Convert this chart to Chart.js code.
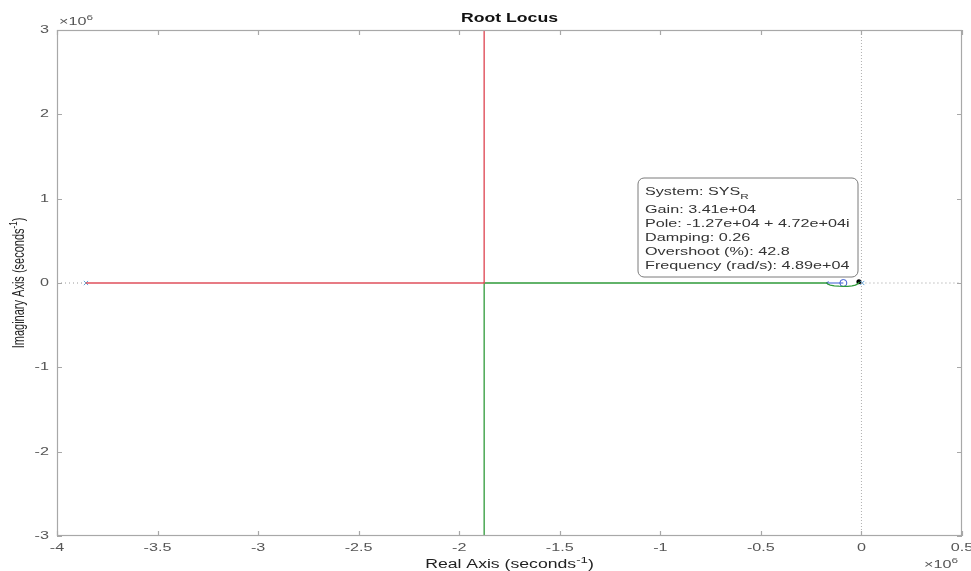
<!DOCTYPE html>
<html>
<head>
<meta charset="utf-8">
<script src="https://cdn.jsdelivr.net/npm/chart.js@4.4.0/dist/chart.umd.min.js"></script>
<style>
html,body{margin:0;padding:0;background:#fff;}
#wrap{width:971px;height:571px;}
</style>
</head>
<body>
<div id="wrap"><canvas id="c" width="971" height="571"></canvas></div>
<script>
// Values in units of 1e6 (seconds^-1)
const redX = [-3.856, -1.876, -1.876];
const redY = [0, 0, 3];
const greenX = [-1.876, -1.876, -0.172, -0.168, -0.155, -0.135, -0.112, -0.09, -0.068, -0.047, -0.03, -0.017, -0.01];
const greenY = [-3, 0, 0, -0.012, -0.024, -0.033, -0.038, -0.04, -0.039, -0.034, -0.024, -0.008, 0.014];
const blueLineX = [-0.175, -0.09];
const blueLineY = [0, 0];
const blueArcX = [-0.163, -0.175, -0.163];
const blueArcY = [0.016, 0, -0.016];
const poleX = [-3.856, 0.004];
const poleY = [0, 0];
const zeroX = [-0.09];
const zeroY = [0];
const tipX = [-0.0127];
const tipY = [0.016];
const xTicks = [-4, -3.5, -3, -2.5, -2, -1.5, -1, -0.5, 0, 0.5];
const yTicks = [-3, -2, -1, 0, 1, 2, 3];
const tipLines = ["Gain: 3.41e+04", "Pole: -1.27e+04 + 4.72e+04i", "Damping: 0.26", "Overshoot (%): 42.8", "Frequency (rad/s): 4.89e+04"];

const pts = (xs, ys) => xs.map((x, i) => ({x: x, y: ys[i]}));
const FONT = '"Liberation Sans", Arial, sans-serif';
const AX = '#a8a8a8';
const TXT = '#555555';
const SX = 1.47; // horizontal stretch of the reference's text

function lineDS(data, color, dash, w) {
  return {data: data, showLine: true, borderColor: color, borderWidth: w || 1, pointRadius: 0,
    borderDash: dash || [], fill: false, tension: 0};
}

const datasets = [
  lineDS(pts([-4, -3.856], [0, 0]), '#9a9a9a', [1, 3]),
  lineDS(pts([0, 0.5], [0, 0]), '#9a9a9a', [1, 3]),
  lineDS(pts([0, 0], [-3, 3]), '#b0b0b0', [1, 2]),
  lineDS(pts(redX, redY), '#e0505c', null, 1.4),
  lineDS(pts(greenX, greenY), '#2f9a3a', null, 1.3),
  lineDS(pts(blueLineX, blueLineY), '#3a5bd0'),
  lineDS(pts(blueArcX, blueArcY), '#3a5bd0'),
  {data: pts(poleX, poleY), showLine: false, pointStyle: 'crossRot', pointRadius: 3,
    borderColor: '#5aa0d8', borderWidth: 1},
  {data: pts(zeroX, zeroY), showLine: false, pointStyle: 'circle', pointRadius: 3.5,
    borderColor: '#3a5bd0', backgroundColor: 'rgba(0,0,0,0)', borderWidth: 1},
  {data: pts(tipX, tipY), showLine: false, pointStyle: 'circle', pointRadius: 2.5,
    borderColor: '#000', backgroundColor: '#000', borderWidth: 0}
];

function stext(ctx, text, x, y, font, align, base) {
  ctx.save();
  ctx.translate(x, y);
  ctx.scale(SX, 1);
  ctx.font = font;
  ctx.textAlign = align || 'left';
  ctx.textBaseline = base || 'alphabetic';
  ctx.fillText(text, 0, 0);
  ctx.restore();
}

// text with superscript, drawn in current transform, stretched along its own x by sx
function supText(ctx, base, sup, tail, x, y, size, align, sx) {
  const sf = Math.round(size * 0.72);
  ctx.font = size + 'px ' + FONT;
  const w1 = ctx.measureText(base).width;
  const w3 = ctx.measureText(tail).width;
  ctx.font = sf + 'px ' + FONT;
  const w2 = ctx.measureText(sup).width;
  const total = (w1 + w2 + w3);
  ctx.save();
  ctx.translate(x, y);
  ctx.scale(sx, 1);
  let x0 = align === 'center' ? -total / 2 : (align === 'right' ? -total : 0);
  ctx.textAlign = 'left';
  ctx.textBaseline = 'alphabetic';
  ctx.font = size + 'px ' + FONT;
  ctx.fillText(base, x0, 0);
  ctx.font = sf + 'px ' + FONT;
  ctx.fillText(sup, x0 + w1, -size * 0.45);
  ctx.font = size + 'px ' + FONT;
  ctx.fillText(tail, x0 + w1 + w2, 0);
  ctx.restore();
}

const deco = {
  id: 'deco',
  afterDraw(chart) {
    const ctx = chart.ctx;
    const a = chart.chartArea;
    const xs = chart.scales.x, ys = chart.scales.y;
    ctx.save();
    // box
    ctx.strokeStyle = AX;
    ctx.lineWidth = 1.2;
    ctx.strokeRect(a.left + 0.5, a.top + 0.5, a.right - a.left - 1, a.bottom - a.top - 1);
    // inward ticks
    ctx.beginPath();
    xs.ticks.forEach(t => {
      const px = Math.round(xs.getPixelForValue(t.value)) + 0.5;
      ctx.moveTo(px, a.bottom); ctx.lineTo(px, a.bottom - 5);
      ctx.moveTo(px, a.top); ctx.lineTo(px, a.top + 5);
    });
    ys.ticks.forEach(t => {
      const py = Math.round(ys.getPixelForValue(t.value)) + 0.5;
      ctx.moveTo(a.left, py); ctx.lineTo(a.left + 5, py);
      ctx.moveTo(a.right, py); ctx.lineTo(a.right - 5, py);
    });
    ctx.stroke();
    // tick labels (from the scales)
    ctx.fillStyle = TXT;
    xs.ticks.forEach(t => {
      stext(ctx, String(t.value), xs.getPixelForValue(t.value), a.bottom + 12, '11px ' + FONT, 'center', 'middle');
    });
    ys.ticks.forEach(t => {
      stext(ctx, String(t.value), a.left - 8, ys.getPixelForValue(t.value), '11px ' + FONT, 'right', 'middle');
    });
    // title
    ctx.fillStyle = '#111';
    stext(ctx, 'Root Locus', (a.left + a.right) / 2, 22, 'bold 12px ' + FONT, 'center');
    // exponent labels
    ctx.fillStyle = TXT;
    supText(ctx, '\u00d710', '6', '', 59, 25, 11, 'left', SX);
    supText(ctx, '\u00d710', '6', '', 924, 568, 11, 'left', SX);
    // axis titles
    ctx.fillStyle = '#222';
    supText(ctx, 'Real Axis (seconds', '-1', ')', (a.left + a.right) / 2, 568, 12, 'center', SX);
    ctx.save();
    ctx.translate(24, (a.top + a.bottom) / 2);
    ctx.rotate(-Math.PI / 2);
    ctx.scale(1, SX);
    supText(ctx, 'Imaginary Axis (seconds', '-1', ')', 0, 0, 11, 'center', 1);
    ctx.restore();
    // data tip
    const bx = 638, by = 178, bw = 220, bh = 99, r = 6;
    ctx.beginPath();
    ctx.moveTo(bx + r, by);
    ctx.arcTo(bx + bw, by, bx + bw, by + bh, r);
    ctx.arcTo(bx + bw, by + bh, bx, by + bh, r);
    ctx.arcTo(bx, by + bh, bx, by, r);
    ctx.arcTo(bx, by, bx + bw, by, r);
    ctx.closePath();
    ctx.fillStyle = 'rgba(255,255,255,0.96)';
    ctx.fill();
    ctx.strokeStyle = '#7a7a7a';
    ctx.lineWidth = 1;
    ctx.stroke();
    ctx.fillStyle = '#333';
    stext(ctx, 'System: SYS', 645, 192, '11px ' + FONT, 'left', 'middle');
    ctx.font = '11px ' + FONT;
    const w = ctx.measureText('System: SYS').width * SX;
    stext(ctx, 'R', 645 + w, 197, '8px ' + FONT, 'left', 'middle');
    tipLines.forEach((t, i) => stext(ctx, t, 645, 210 + i * 14, '11px ' + FONT, 'left', 'middle'));
    ctx.restore();
  }
};

new Chart(document.getElementById('c'), {
  type: 'scatter',
  data: {datasets: datasets},
  options: {
    responsive: false,
    animation: false,
    layout: {padding: {top: 30, right: 9, left: 0, bottom: 0}},
    plugins: {legend: {display: false}, tooltip: {enabled: false}, title: {display: false}},
    events: [],
    scales: {
      x: {
        type: 'linear', min: -4, max: 0.5,
        afterBuildTicks: s => { s.ticks = xTicks.map(v => ({value: v})); },
        afterFit: s => { s.height = 35; s.paddingLeft = 0; s.paddingRight = 0; },
        grid: {display: false, drawTicks: false},
        border: {display: false},
        ticks: {display: false}
      },
      y: {
        type: 'linear', min: -3, max: 3,
        afterBuildTicks: s => { s.ticks = yTicks.map(v => ({value: v})); },
        afterFit: s => { s.width = 57; s.paddingTop = 0; s.paddingBottom = 0; },
        grid: {display: false, drawTicks: false},
        border: {display: false},
        ticks: {display: false}
      }
    }
  },
  plugins: [deco]
});
</script>
</body>
</html>
